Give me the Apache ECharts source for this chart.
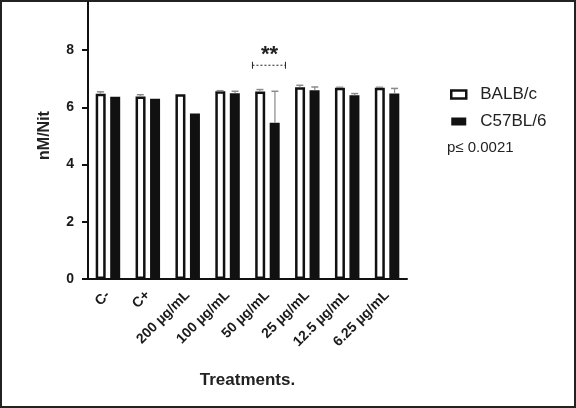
<!DOCTYPE html>
<html><head><meta charset="utf-8">
<script src="https://cdn.jsdelivr.net/npm/echarts@6/dist/echarts.min.js"></script>
<style>html,body{margin:0;padding:0;background:#fff}#c{width:576px;height:408px}</style>
</head><body><div id="c"></div>
<script>
const categories = ['C-', 'C+', '200 µg/mL', '100 µg/mL', '50 µg/mL', '25 µg/mL', '12.5 µg/mL', '6.25 µg/mL'];
const balbValues = [6.47, 6.38, 6.46, 6.56, 6.55, 6.70, 6.68, 6.68];
const balbErrors = [0.07, 0.06, 0.0, 0.02, 0.07, 0.07, 0.02, 0.02];
const c57Values = [6.37, 6.30, 5.78, 6.49, 5.46, 6.60, 6.42, 6.48];
const c57Errors = [0.0, 0.0, 0.0, 0.07, 1.10, 0.11, 0.06, 0.18];
const yTicks = [0, 2, 4, 6, 8];
const seriesNames = ['BALB/c', 'C57BL/6'];
const pText = 'p\u2264 0.0021';
const sigText = '**';
const sigIndex = 4;

const FONT = '"Liberation Sans", Arial, sans-serif';
const INK = '#111';
const chart = echarts.init(document.getElementById('c'), null, {renderer: 'canvas'});

function errSeries(vals, errs, offset) {
  return {
    type: 'custom',
    z: 5,
    silent: true,
    data: vals.map((v, i) => [i, v, v + errs[i]]),
    renderItem: function (params, api) {
      const i = api.value(0);
      const lo = api.coord([i, api.value(1)]);
      const hi = api.coord([i, api.value(2)]);
      const x = lo[0] + offset;
      if (Math.abs(lo[1] - hi[1]) < 0.5) return null;
      return {
        type: 'group',
        children: [
          {type: 'line', shape: {x1: x, y1: lo[1], x2: x, y2: hi[1]}, style: {stroke: '#8a8a8a', lineWidth: 1.2}},
          {type: 'line', shape: {x1: x - 3.5, y1: hi[1], x2: x + 3.5, y2: hi[1]}, style: {stroke: '#8a8a8a', lineWidth: 1.5}}
        ]
      };
    }
  };
}

chart.setOption({
  animation: false,
  backgroundColor: '#fff',
  textStyle: {fontFamily: FONT},
  grid: {left: 88, right: 169, top: 2, bottom: 129},
  legend: {
    orient: 'vertical',
    left: 445, top: 81,
    itemWidth: 15, itemHeight: 8, itemGap: 10,
    textStyle: {fontFamily: FONT, fontSize: 17, color: '#222', lineHeight: 17, padding: [0, 0, 0, 9]},
    data: [
      {name: seriesNames[0], icon: 'rect', itemStyle: {color: '#fff', borderColor: INK, borderWidth: 2.5}},
      {name: seriesNames[1], icon: 'rect', itemStyle: {color: INK, borderWidth: 0}}
    ]
  },
  xAxis: {
    type: 'category',
    data: categories,
    name: 'Treatments.',
    nameLocation: 'middle',
    nameGap: 93,
    nameTextStyle: {fontFamily: FONT, fontSize: 17, fontWeight: 'bold', color: '#222'},
    axisLine: {lineStyle: {color: INK, width: 2}},
    axisTick: {alignWithLabel: true, length: 6, lineStyle: {color: INK, width: 2}},
    axisLabel: {rotate: 45, margin: 14, fontFamily: FONT, fontSize: 14, fontWeight: 'bold', color: '#1a1a1a', interval: 0}
  },
  yAxis: {
    type: 'value',
    min: 0, max: 9.68,
    name: 'nM/Nit',
    nameLocation: 'middle',
    nameGap: 35,
    nameTextStyle: {fontFamily: FONT, fontSize: 16, fontWeight: 'bold', color: '#222', padding: [0, 0, 0, 10]},
    splitLine: {show: false},
    axisLine: {show: true, lineStyle: {color: INK, width: 2}},
    axisTick: {show: true, length: 6, lineStyle: {color: INK, width: 2}, customValues: yTicks},
    axisLabel: {margin: 14, fontFamily: FONT, fontSize: 14, fontWeight: 'bold', color: '#1a1a1a', customValues: yTicks}
  },
  series: [
    {name: seriesNames[0], type: 'bar', data: balbValues, barWidth: 10, barGap: '45%',
     itemStyle: {color: '#fff', borderColor: INK, borderWidth: 2.5}},
    {name: seriesNames[1], type: 'bar', data: c57Values, barWidth: 10,
     itemStyle: {color: INK}},
    errSeries(balbValues, balbErrors, -7.5),
    errSeries(c57Values, c57Errors, 7.5)
  ]
});

function drawAnnotations() {
  const c = chart.convertToPixel({gridIndex: 0}, [sigIndex, 7.47]);
  const s = chart.convertToPixel({gridIndex: 0}, [sigIndex, 7.98]);
  const x1 = c[0] - 15, x2 = c[0] + 18, y = c[1];
  chart.setOption({
    graphic: [
      {type: 'rect', shape: {x: 1, y: 1, width: 574, height: 406}, style: {fill: 'none', stroke: '#222', lineWidth: 2}, silent: true},
      {type: 'line', shape: {x1: x1, y1: y, x2: x2, y2: y}, style: {stroke: '#222', lineWidth: 1, lineDash: [2, 2]}},
      {type: 'line', shape: {x1: x1, y1: y - 3.5, x2: x1, y2: y + 3.5}, style: {stroke: '#222', lineWidth: 1}},
      {type: 'line', shape: {x1: x2, y1: y - 3.5, x2: x2, y2: y + 3.5}, style: {stroke: '#222', lineWidth: 1}},
      {type: 'text', x: s[0] + 2, y: s[1] + 4, style: {text: sigText, font: 'bold 22px ' + FONT, fill: '#222', align: 'center', verticalAlign: 'middle'}},
      {type: 'text', x: 447, y: 148, style: {text: pText, font: '15px ' + FONT, fill: '#222', align: 'left', verticalAlign: 'middle'}}
    ]
  });
}
drawAnnotations();
</script>
</body></html>
